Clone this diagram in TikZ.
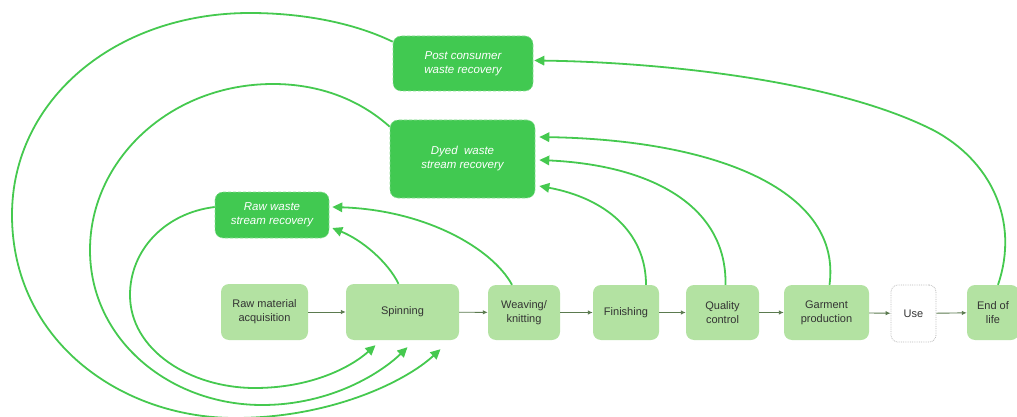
\documentclass[tikz,border=0pt]{standalone}
\usepackage{fontspec}
\setmainfont{Liberation Sans}
\usetikzlibrary{arrows.meta,calc}
\definecolor{dkgreen}{HTML}{41C951}
\definecolor{ltgreen}{HTML}{B3E2A2}
\definecolor{curvegreen}{HTML}{45C94F}
\definecolor{procarrow}{HTML}{5B7A4F}
\definecolor{txt}{HTML}{333333}
\tikzset{
  recov/.style={fill=dkgreen, draw=dkgreen!60!white, densely dashed, line width=0.6pt, rounded corners=8pt,
    inner sep=0pt, align=center, text=white, font=\fontsize{11.5}{14}\selectfont\itshape},
  proc/.style={fill=ltgreen, draw=none, rounded corners=8pt, inner sep=0pt, align=center,
    text=txt, font=\fontsize{11}{14}\selectfont},
  usebox/.style={fill=white, draw=gray!55, densely dotted, line width=0.8pt, rounded corners=7pt,
    inner sep=0pt, align=center, text=txt, font=\fontsize{11}{14}\selectfont},
  flow/.style={draw=procarrow, line width=0.9pt, -{Latex[length=5pt,width=4.5pt]}},
  loop/.style={draw=curvegreen, line width=1.8pt, -{Triangle[length=10pt,width=9.5pt]}},
}
\begin{document}
\begin{tikzpicture}[x=1pt,y=-1pt]
\useasboundingbox (0,0) rectangle (1017,417);
% recovery nodes
\node[recov, minimum width=140pt, minimum height=55pt] (post) at (463,63.5) {Post consumer\\waste recovery};
\node[recov, minimum width=145pt, minimum height=78pt] (dyed) at (462.5,159) {Dyed\ \ waste\\stream recovery};
\node[recov, minimum width=114pt, minimum height=46pt] (raw) at (272,215) {Raw waste\\stream recovery};
% process nodes
\node[proc, minimum width=87pt, minimum height=56pt] (rma) at (264.5,312) {Raw material\\acquisition};
\node[proc, minimum width=113pt, minimum height=56pt] (spin) at (402.5,312) {Spinning};
\node[proc, minimum width=72pt, minimum height=55pt] (weave) at (524,312.5) {Weaving/\\knitting};
\node[proc, minimum width=66pt, minimum height=55pt] (finish) at (626,312.5) {Finishing};
\node[proc, minimum width=73pt, minimum height=55pt] (qc) at (722.5,312.5) {Quality\\control};
\node[proc, minimum width=85pt, minimum height=55pt] (garment) at (826.5,312.5) {Garment\\production};
\node[usebox, minimum width=45pt, minimum height=57pt] (use) at (913.5,313.5) {Use};
\node[proc, minimum width=52pt, minimum height=55pt] (eol) at (993,312.5) {End of\\life};
% process flow
\draw[flow] (rma) -- (spin);
\draw[flow] (spin) -- (weave);
\draw[flow] (weave) -- (finish);
\draw[flow] (finish) -- (qc);
\draw[flow] (qc) -- (garment);
\draw[flow] (garment) -- (use);
\draw[flow] (use) -- (eol);
% upward loops
\draw[loop] ($(spin.north)+(-4,0)$) .. controls (388,262) and (362,240) .. ($(raw.east)+(3,13)$);
\draw[loop] ($(weave.north)+(-12,0)$) .. controls (492,248) and (425,210) .. ($(raw.east)+(3,-8)$);
\draw[loop] ($(finish.north)+(20,0)$) .. controls (646,232) and (605,198) .. ($(dyed.east)+(4,27)$);
\draw[loop] ($(qc.north)+(3,0)$) .. controls (727,205) and (650,165) .. ($(dyed.east)+(4,1)$);
\draw[loop] ($(garment.north)+(3,0)$) .. controls (842,192) and (720,140) .. ($(dyed.east)+(4,-22)$);
\draw[loop] ($(eol.north)+(5,0)$) .. controls (1020,220) and (990,160) .. (933,130)
   .. controls (830,78) and (650,62) .. ($(post.east)+(1,-3)$);
% big left loops
\draw[loop] ($(raw.west)+(0,-8)$) .. controls (165,213) and (130,250) .. (130,295)
   .. controls (130,350) and (190,388) .. (255,388)
   .. controls (310,388) and (350,368) .. ($(spin.south)+(-27,5)$);
\draw[loop] ($(dyed.north west)+(0,7)$) .. controls (360,100) and (320,84) .. (273,84)
   .. controls (170,84) and (90,160) .. (90,250)
   .. controls (90,340) and (170,405) .. (262,405)
   .. controls (332,405) and (382,372) .. ($(spin.south)+(5,7)$);
\draw[loop] ($(post.north west)+(0,6)$) .. controls (352,22) and (300,13) .. (250,13)
   .. controls (115,13) and (12,100) .. (12,215)
   .. controls (12,340) and (120,418) .. (235,418)
   .. controls (330,418) and (405,382) .. ($(spin.south)+(38,9)$);
\end{tikzpicture}
\end{document}
